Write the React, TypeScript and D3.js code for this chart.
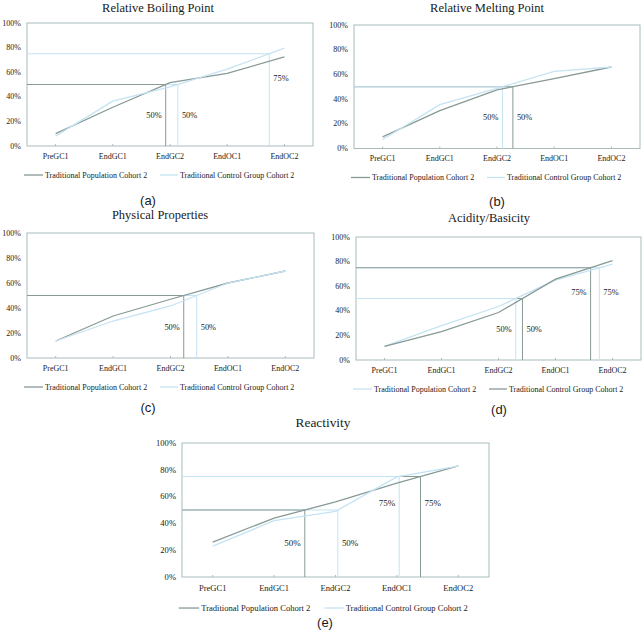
import React from 'react';
import * as d3 from 'd3';

// categories and tick labels
const categories = ['PreGC1', 'EndGC1', 'EndGC2', 'EndOC1', 'EndOC2'];
const yTicks = [0, 20, 40, 60, 80, 100];
const thresholds = [50, 75];
const labelLevels = [25, 55];

// series values (percent)
const boilingPop = [10, 31.5, 51.5, 59, 72.5];
const boilingCtrl = [8, 36.5, 48, 62.5, 79.5];
const meltingPop = [9.4, 30.6, 47.5, 56.5, 66];
const meltingCtrl = [7.3, 35.5, 48.7, 62.4, 66];
const physicalPop = [13.6, 33.6, 47, 60, 69.6];
const physicalCtrl = [13.6, 29.6, 41.6, 60, 69.6];
const acidityPop = [11, 28, 43.5, 65, 78];
const acidityCtrl = [11, 23, 38.6, 65.7, 80.8];
const reactivityPop = [26, 44, 56, 70, 83];
const reactivityCtrl = [23, 42, 49, 74.7, 82.75];

const POP = 'Traditional Population Cohort 2';
const CTRL = 'Traditional Control Group Cohort 2';

const DARK = '#889a96';
const LIGHT = '#c4e3f3';
const FRAME = '#a9bcbc';
const TEXT = '#1a1a1a';
const SERIF = "'Liberation Serif', 'Times New Roman', Times, 'DejaVu Serif', serif";
const SANS = "'Liberation Sans', Arial, sans-serif";

const panels = [
  { id: 'a', title: 'Relative Boiling Point', series: [{ name: POP, values: boilingPop, color: DARK }, { name: CTRL, values: boilingCtrl, color: LIGHT }] },
  { id: 'b', title: 'Relative Melting Point', series: [{ name: POP, values: meltingPop, color: DARK }, { name: CTRL, values: meltingCtrl, color: LIGHT }] },
  { id: 'c', title: 'Physical Properties', series: [{ name: POP, values: physicalPop, color: DARK }, { name: CTRL, values: physicalCtrl, color: LIGHT }] },
  { id: 'd', title: 'Acidity/Basicity', series: [{ name: POP, values: acidityPop, color: LIGHT }, { name: CTRL, values: acidityCtrl, color: DARK }] },
  { id: 'e', title: 'Reactivity', series: [{ name: POP, values: reactivityPop, color: DARK }, { name: CTRL, values: reactivityCtrl, color: LIGHT }] },
];

// where each panel sits on the page
const layout: Record<string, any> = {
  a: { left: 27, top: 23, right: 313, bottom: 146, titleX: 158, titleY: 12, capX: 148, capY: 205, k: 1 },
  b: { left: 354, top: 25, right: 640, bottom: 148.5, titleX: 487, titleY: 12, capX: 497, capY: 206, k: 1 },
  c: { left: 27, top: 233, right: 314, bottom: 358, titleX: 160, titleY: 219, capX: 148, capY: 412, k: 1 },
  d: { left: 356, top: 237, right: 641, bottom: 360, titleX: 489, titleY: 222, capX: 499, capY: 414, k: 1 },
  e: { left: 182, top: 443, right: 489, bottom: 577, titleX: 323, titleY: 427, capX: 325, capY: 627, k: 1.07 },
};

function crossing(values: number[], level: number, x: (i: number) => number) {
  for (let i = 0; i < values.length - 1; i++) {
    if (values[i] < level && values[i + 1] >= level) {
      const t = (level - values[i]) / (values[i + 1] - values[i]);
      return x(i) + t * (x(i + 1) - x(i));
    }
  }
  return null;
}

const Panel = ({ p }: { p: any }) => {
  const L = layout[p.id];
  const fs = 8 * L.k;
  const x = d3.scalePoint<string>().domain(categories).range([L.left, L.right]).padding(0.5);
  const y = d3.scaleLinear().domain([0, 100]).range([L.bottom, L.top]);
  const xi = (i: number) => x(categories[i]) as number;
  const line = d3.line<number>().x((d, i) => xi(i)).y(d => y(d));
  const serif = { fontFamily: SERIF };

  // reference lines at 50% / 75%
  const refs: any[] = [];
  thresholds.forEach((lv, ti) => {
    const hits = p.series
      .map((s: any) => ({ color: s.color, cx: crossing(s.values, lv, xi) }))
      .filter((h: any) => h.cx !== null)
      .sort((a: any, b: any) => a.cx - b.cx);
    hits.forEach((h: any, j: number) => {
      const right = hits.length === 1 || j === 1;
      refs.push({ ...h, level: lv, labelY: y(labelLevels[ti]), right, order: j });
    });
  });

  const legendX = [
    { x1: -3, x2: 16, tx: 18 },
    { x1: 133, x2: 151, tx: 153 },
  ];
  const legY = L.bottom + 29 * L.k;

  return (
    <g>
      <text x={L.titleX} y={L.titleY} textAnchor="middle" style={serif} fontSize={12.5 * L.k} fill={TEXT}>
        {p.title}
      </text>
      <rect x={L.left} y={L.top} width={L.right - L.left} height={L.bottom - L.top} fill="none" stroke={FRAME} strokeWidth={1} />
      {yTicks.map(t => (
        <text key={t} x={L.left - 6} y={y(t)} dy="0.33em" textAnchor="end" style={serif} fontSize={fs} fill={TEXT}>
          {t}%
        </text>
      ))}
      {categories.map(c => (
        <g key={c}>
          <line x1={x(c)} x2={x(c)} y1={L.bottom} y2={L.bottom - 2} stroke={FRAME} />
          <text x={x(c)} y={L.bottom + 10 * L.k} dy="0.33em" textAnchor="middle" style={serif} fontSize={fs} fill={TEXT}>
            {c}
          </text>
        </g>
      ))}
      {refs
        .slice()
        .sort((a, b) => b.order - a.order)
        .map((r, i) => (
          <line key={'h' + i} x1={L.left} x2={r.cx} y1={y(r.level)} y2={y(r.level)} stroke={r.color} strokeWidth={1} />
        ))}
      {refs.map((r, i) => (
        <g key={'v' + i}>
          <line x1={r.cx} x2={r.cx} y1={y(r.level)} y2={L.bottom} stroke={r.color} strokeWidth={1} />
          <text
            x={r.right ? r.cx + 4 : r.cx - 4}
            y={r.labelY}
            dy="0.33em"
            textAnchor={r.right ? 'start' : 'end'}
            style={serif}
            fontSize={fs * 1.05}
            fill={TEXT}
          >
            {r.level}%
          </text>
        </g>
      ))}
      {p.series.map((s: any) => (
        <path key={s.name} d={line(s.values) as string} fill="none" stroke={s.color} strokeWidth={1.3} />
      ))}
      {p.series.map((s: any, i: number) => (
        <g key={'l' + i}>
          <line x1={L.left + legendX[i].x1 * L.k} x2={L.left + legendX[i].x2 * L.k} y1={legY} y2={legY} stroke={s.color} strokeWidth={1.3} />
          <text x={L.left + legendX[i].tx * L.k} y={legY} dy="0.33em" style={serif} fontSize={fs} fill={TEXT}>
            {s.name}
          </text>
        </g>
      ))}
      <text x={L.capX} y={L.capY} textAnchor="middle" style={{ fontFamily: SANS }} fontSize={13} fill={TEXT}>
        ({p.id})
      </text>
    </g>
  );
};

export default function App() {
  return (
    <svg width={644} height={631} style={{ position: 'absolute', left: 0, top: 0, background: '#fff' }}>
      <rect width={644} height={631} fill="#fff" />
      {panels.map(p => (
        <Panel key={p.id} p={p} />
      ))}
    </svg>
  );
}
